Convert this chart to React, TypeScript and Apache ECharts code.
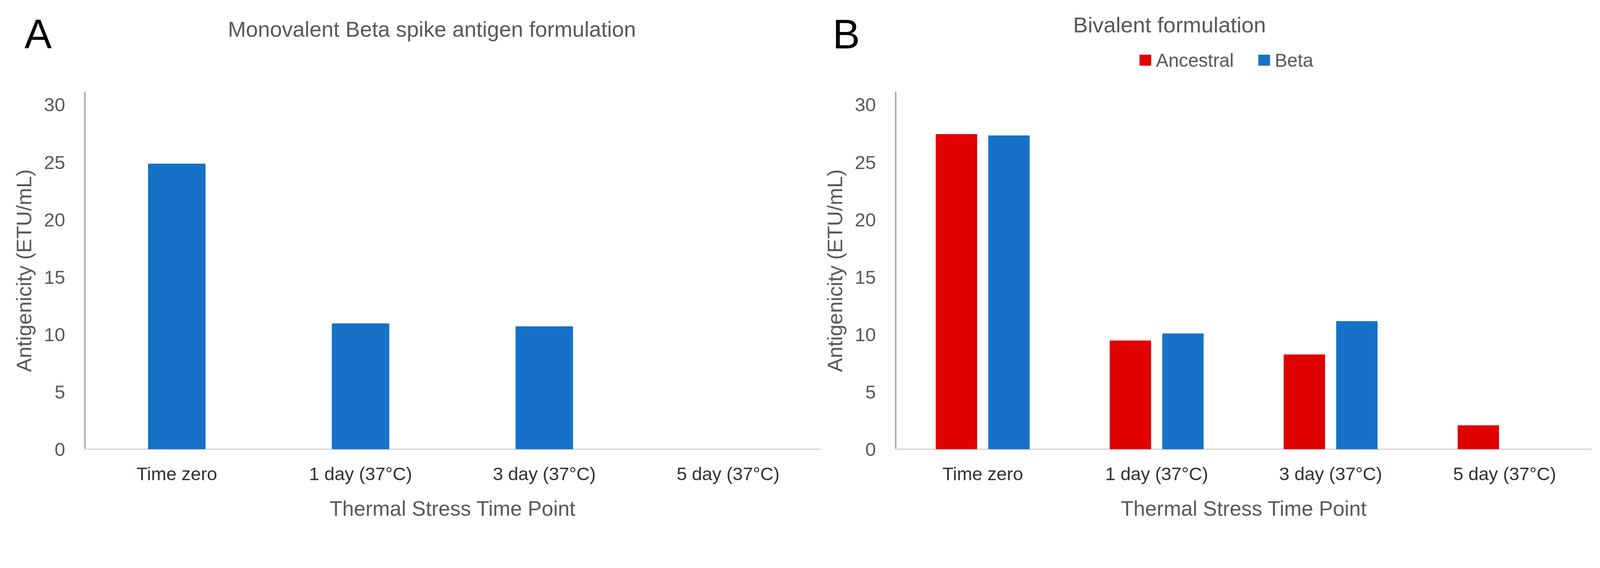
import React, { useEffect, useRef } from "react";
import * as echarts from "echarts";

const categories = ["Time zero", "1 day (37°C)", "3 day (37°C)", "5 day (37°C)"];
const monoBeta = [24.87, 10.96, 10.7, 0];
const bivAncestral = [27.45, 9.47, 8.25, 2.08];
const bivBeta = [27.33, 10.08, 11.15, 0];
const seriesNames = ["Ancestral", "Beta"];
const titleA = "Monovalent Beta spike antigen formulation";
const titleB = "Bivalent formulation";
const yName = "Antigenicity (ETU/mL)";
const xName = "Thermal Stress Time Point";
const yMin = 0;
const yMax = 31.1;
const yInterval = 5;

const FONT = "Liberation Sans";
const RED = "#E00000";
const BLUE = "#1572C8";
const GRAY = "#595959";
const REF_W = 4371;
const REF_H = 1455;

function makeYAxis(gridIndex: number) {
  return {
    type: "value",
    gridIndex,
    min: yMin,
    max: yMax,
    interval: yInterval,
    name: yName,
    nameLocation: "middle",
    nameRotate: 90,
    nameGap: 138,
    nameTextStyle: { fontFamily: FONT, fontSize: 57, color: GRAY },
    axisLine: { show: true, lineStyle: { color: "#A6A6A6", width: 4 } },
    axisTick: { show: false },
    splitLine: { show: false },
    axisLabel: {
      fontFamily: FONT,
      fontSize: 52,
      color: GRAY,
      margin: 54,
      showMaxLabel: false,
    },
  };
}

function makeXAxis(gridIndex: number) {
  return {
    type: "category",
    gridIndex,
    data: categories,
    name: xName,
    nameLocation: "middle",
    nameGap: 133,
    nameTextStyle: { fontFamily: FONT, fontSize: 57, color: GRAY },
    axisLine: { show: true, lineStyle: { color: "#D9D9D9", width: 4 } },
    axisTick: { show: false },
    axisLabel: {
      fontFamily: FONT,
      fontSize: 50,
      color: "#333333",
      margin: 43,
      interval: 0,
    },
  };
}

export default function App() {
  const ref = useRef<HTMLDivElement>(null);
  const vw = typeof window !== "undefined" ? window.innerWidth : REF_W;
  const vh = typeof window !== "undefined" ? window.innerHeight : REF_H;
  const s = Math.min(1, vw / REF_W, vh / REF_H);

  useEffect(() => {
    if (!ref.current) return;
    const chart = echarts.init(ref.current, null, { renderer: "svg" });
    chart.setOption({
      animation: false,
      backgroundColor: "#ffffff",
      grid: [
        { left: 232, top: 252, width: 2008, height: 976 },
        { left: 2447, top: 252, width: 2004, height: 976 },
      ],
      xAxis: [makeXAxis(0), makeXAxis(1)],
      yAxis: [makeYAxis(0), makeYAxis(1)],
      legend: {
        data: seriesNames,
        left: 3108,
        top: 134,
        itemWidth: 32,
        itemHeight: 30,
        itemGap: 67,
        icon: "rect",
        textStyle: {
          fontFamily: FONT,
          fontSize: 51,
          color: GRAY,
          lineHeight: 50,
          padding: [0, 0, 0, 8],
        },
      },
      graphic: [
        {
          type: "text",
          x: 104,
          y: 92,
          style: {
            text: "A",
            fontFamily: FONT,
            fontSize: 112,
            fill: "#000000",
            textAlign: "center",
            textVerticalAlign: "middle",
          },
        },
        {
          type: "text",
          x: 2312,
          y: 93,
          style: {
            text: "B",
            fontFamily: FONT,
            fontSize: 112,
            fill: "#000000",
            textAlign: "center",
            textVerticalAlign: "middle",
          },
        },
        {
          type: "text",
          x: 1180,
          y: 80,
          style: {
            text: titleA,
            fontFamily: FONT,
            fontSize: 59,
            fill: GRAY,
            textAlign: "center",
            textVerticalAlign: "middle",
          },
        },
        {
          type: "text",
          x: 3195,
          y: 68,
          style: {
            text: titleB,
            fontFamily: FONT,
            fontSize: 60,
            fill: GRAY,
            textAlign: "center",
            textVerticalAlign: "middle",
          },
        },
      ],
      series: [
        {
          name: "Monovalent Beta",
          type: "bar",
          xAxisIndex: 0,
          yAxisIndex: 0,
          data: monoBeta,
          barWidth: 157,
          itemStyle: { color: BLUE },
        },
        {
          name: seriesNames[0],
          type: "bar",
          xAxisIndex: 1,
          yAxisIndex: 1,
          data: bivAncestral,
          barWidth: 113,
          barGap: "27%",
          itemStyle: { color: RED },
        },
        {
          name: seriesNames[1],
          type: "bar",
          xAxisIndex: 1,
          yAxisIndex: 1,
          data: bivBeta,
          barWidth: 113,
          barGap: "27%",
          itemStyle: { color: BLUE },
        },
      ],
    });
    return () => chart.dispose();
  }, []);

  return (
    <div
      style={{
        position: "absolute",
        left: 0,
        top: 0,
        width: 4348,
        height: REF_H,
        transform: `scale(${s})`,
        transformOrigin: "0 0",
        background: "#fff",
      }}
    >
      <div ref={ref} style={{ width: 4348, height: REF_H }} />
    </div>
  );
}
